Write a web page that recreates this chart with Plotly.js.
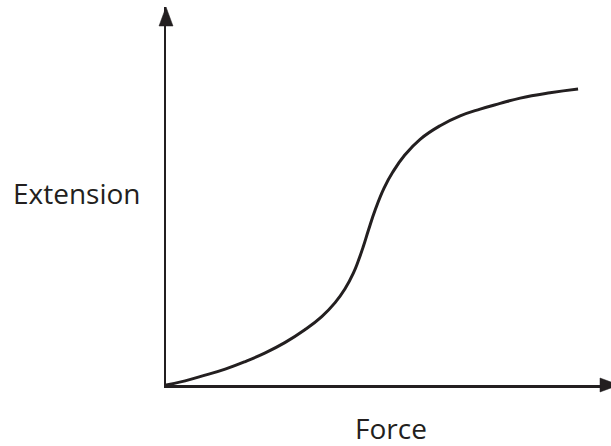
<!DOCTYPE html>
<html>
<head>
<meta charset="utf-8">
<script src="https://cdn.plot.ly/plotly-3.0.1.min.js"></script>
<style>html,body{margin:0;padding:0;background:#fff;}#chart{width:611px;height:446px;}</style>
</head>
<body>
<div id="chart"></div>
<script>
// Force (arbitrary units, 0-100) and Extension (arbitrary units, 0-100)
const force = [0, 4.3, 8.8, 13.3, 17.8, 22.3, 26.7, 31.2, 35.0, 38.0, 40.2, 42.1, 43.2, 44.3, 45.5, 47.0, 49.0, 51.0, 53.7, 57.1, 61.6, 66.1, 70.6, 75.1, 79.6, 86.3, 92.6];
const extension = [0, 1.1, 2.6, 4.2, 6.2, 8.5, 11.2, 14.6, 18.1, 21.8, 25.4, 29.6, 32.8, 36.5, 41.0, 46.3, 52.1, 56.4, 60.9, 65.0, 68.6, 71.2, 73.0, 74.5, 75.9, 77.3, 78.3];
const xLabel = "Force";
const yLabel = "Extension";

const ink = "#231f20";
const fontFam = "'Open Sans', sans-serif";

const data = [{
  x: force, y: extension, type: "scatter", mode: "lines",
  line: {color: ink, width: 3, shape: "spline", smoothing: 1.3},
  hoverinfo: "skip"
}];

const layout = {
  width: 611, height: 446,
  margin: {l: 166, r: 0, t: 7, b: 61, pad: 0},
  paper_bgcolor: "#fff", plot_bgcolor: "#fff",
  showlegend: false,
  xaxis: {range: [0, 100], showgrid: false, zeroline: false, showticklabels: false, ticks: "",
          showline: true, linecolor: ink, linewidth: 2.5, fixedrange: true},
  yaxis: {range: [0, 100], showgrid: false, zeroline: false, showticklabels: false, ticks: "",
          showline: true, linecolor: ink, linewidth: 2.5, fixedrange: true},
  shapes: [
    {type: "path", xref: "paper", yref: "paper", path: "M 0 1.0 L 0.0157 0.9497 L -0.0157 0.9497 Z",
     fillcolor: ink, line: {color: ink, width: 0.5}},
    {type: "path", xref: "paper", yref: "paper", path: "M 1.018 0 L 0.9753 0.0185 L 0.9753 -0.0185 Z",
     fillcolor: ink, line: {color: ink, width: 0.5}}
  ],
  annotations: [
    {text: yLabel, xref: "paper", yref: "paper", x: -0.201, y: 0.508, xanchor: "center", yanchor: "middle",
     showarrow: false, font: {family: fontFam, size: 28, color: ink}},
    {text: xLabel, xref: "paper", yref: "paper", x: 0.5056, y: -0.115, xanchor: "center", yanchor: "middle",
     showarrow: false, font: {family: fontFam, size: 28, color: ink}}
  ]
};

Plotly.newPlot("chart", data, layout, {displayModeBar: false, staticPlot: true});
</script>
</body>
</html>
